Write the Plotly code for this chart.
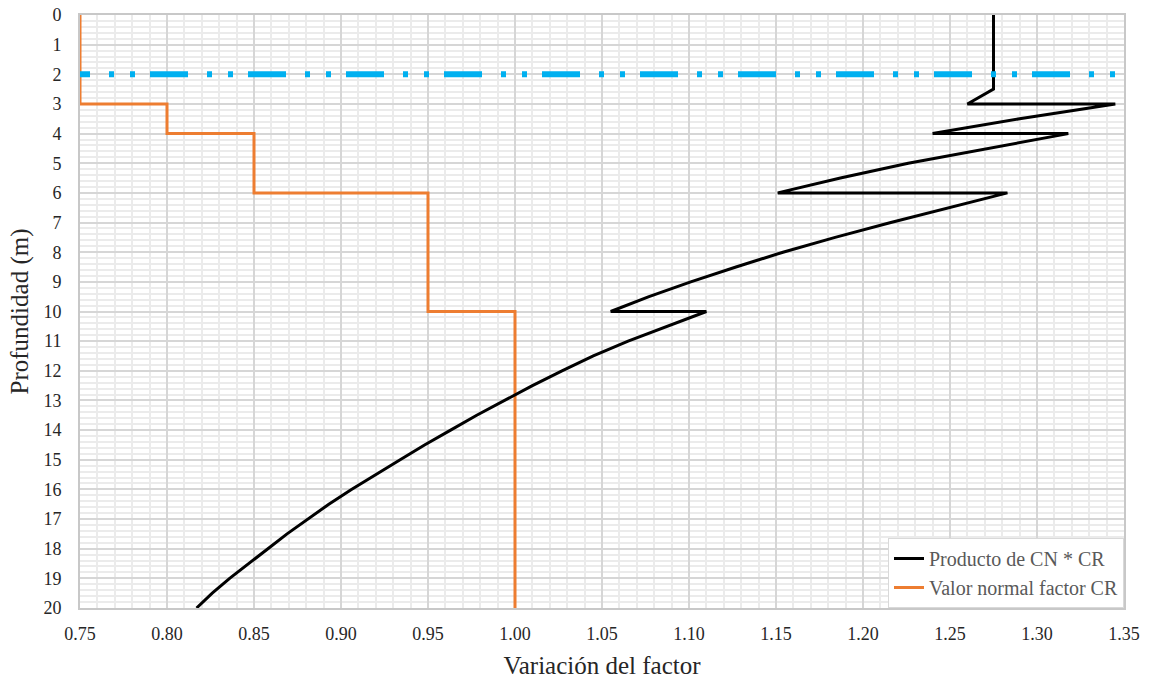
import plotly.graph_objects as go

# Depth (m) and product CN * CR along the profile (repeated depths mark the CR steps)
depth_cn_cr = [0, 0.5, 1, 1.5, 2, 2.5, 3, 3, 3.5, 4, 4, 4.5, 5, 5.5, 6, 6,
               6.5, 7, 7.5, 8, 8.5, 9, 9.5, 10, 10,
               10.5, 11, 11.5, 12, 12.5, 13, 13.5, 14, 14.5, 15,
               15.5, 16, 16.5, 17, 17.5, 18, 18.5, 19, 19.5, 20]
value_cn_cr = [1.275, 1.275, 1.275, 1.275, 1.275, 1.275, 1.260, 1.345, 1.290, 1.240, 1.318,
               1.271, 1.226, 1.187, 1.151, 1.283,
               1.249, 1.216, 1.184, 1.154, 1.127, 1.101, 1.077, 1.055, 1.110,
               1.087, 1.065, 1.045, 1.027, 1.010, 0.994, 0.978, 0.963, 0.948, 0.934,
               0.920, 0.906, 0.893, 0.881, 0.869, 0.858, 0.847, 0.836, 0.826, 0.817]

# Normal value of the CR factor by depth (stepped)
depth_cr = [0, 3, 3, 4, 4, 6, 6, 10, 10, 20]
value_cr = [0.75, 0.75, 0.80, 0.80, 0.85, 0.85, 0.95, 0.95, 1.00, 1.00]

# Water table level
water_depth = [2, 2]
water_x = [0.75, 1.35]

x_ticks = [0.75, 0.80, 0.85, 0.90, 0.95, 1.00, 1.05, 1.10, 1.15, 1.20, 1.25, 1.30, 1.35]
y_ticks = list(range(0, 21))

FONT = "Times New Roman, Liberation Serif, DejaVu Serif, serif"
TEXT = "#262626"

fig = go.Figure()

fig.add_trace(go.Scatter(
    x=value_cr, y=depth_cr, mode="lines", name="Valor normal factor CR",
    line=dict(color="#ED7D31", width=3), legendrank=2,
))
fig.add_trace(go.Scatter(
    x=value_cn_cr, y=depth_cn_cr, mode="lines", name="Producto de CN * CR",
    line=dict(color="#000000", width=3), legendrank=1,
))
fig.add_trace(go.Scatter(
    x=water_x, y=water_depth, mode="lines", showlegend=False, hoverinfo="skip",
    line=dict(color="#00B0F0", width=6, dash="10px,19px,5px,16px,5px,15px,28px,0px"),
))

fig.update_layout(
    width=1149, height=687,
    margin=dict(l=80, r=25, t=15, b=79),
    paper_bgcolor="white", plot_bgcolor="white",
    font=dict(family=FONT, color=TEXT),
    showlegend=True,
    legend=dict(
        x=1, y=0, xanchor="right", yanchor="bottom",
        bgcolor="white", bordercolor="#d9d9d9", borderwidth=1,
        font=dict(family=FONT, size=20, color="#595959"),
        tracegroupgap=0, itemwidth=30,
    ),
)

fig.update_xaxes(
    range=[0.75, 1.35], tickvals=x_ticks, ticktext=[f"{v:.2f}" for v in x_ticks],
    tickfont=dict(family=FONT, size=18, color=TEXT),
    showgrid=True, gridcolor="#d6d6d6", gridwidth=2,
    minor=dict(dtick=0.01, tick0=0.75, showgrid=True, gridcolor="#ebebeb", gridwidth=1.5),
    showline=True, linecolor="#c8c8c8", linewidth=2, mirror=True,
    zeroline=False, ticks="", ticklabelstandoff=8, automargin=False,
    title=dict(text="Variación del factor", font=dict(family=FONT, size=25, color=TEXT), standoff=14),
)
fig.update_yaxes(
    range=[20, 0], tickvals=y_ticks, ticktext=[str(v) for v in y_ticks],
    tickfont=dict(family=FONT, size=18, color=TEXT),
    showgrid=True, gridcolor="#d6d6d6", gridwidth=2,
    minor=dict(dtick=0.2, tick0=0, showgrid=True, gridcolor="#ebebeb", gridwidth=1.5),
    showline=True, linecolor="#c8c8c8", linewidth=2, mirror=True,
    zeroline=False, ticks="", ticklabelstandoff=13, automargin=False,
    title=dict(text="Profundidad (m)", font=dict(family=FONT, size=25, color=TEXT), standoff=8),
)

fig.write_html("out.html")
